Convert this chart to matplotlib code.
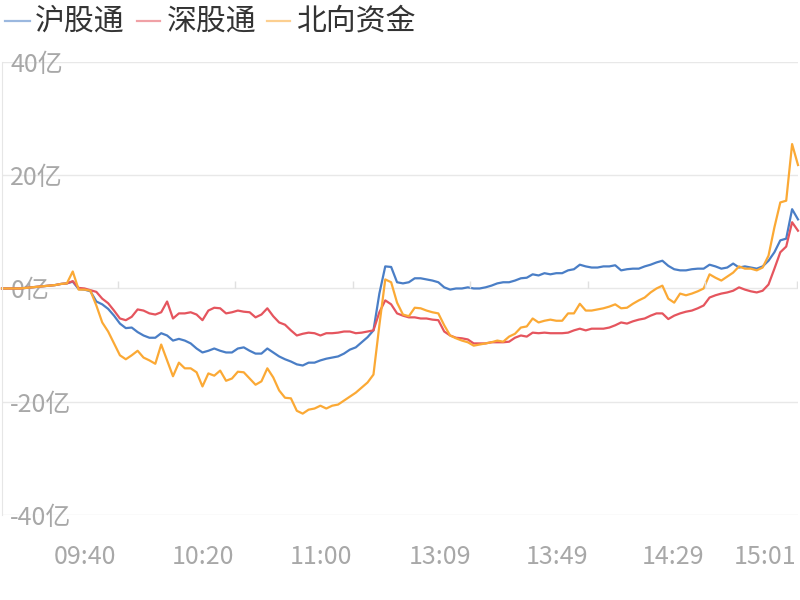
import matplotlib
matplotlib.use('Agg')
import matplotlib.pyplot as plt
import numpy as np
from matplotlib.lines import Line2D

plt.rcParams['font.family'] = ['Noto Sans CJK SC', 'DejaVu Sans']

# net inflow, 亿 yuan, one value every two minutes
series_names = ['沪股通', '深股通', '北向资金']
sh_flow = [
    0.0, 0.0, 0.0, 0.0, 0.1, 0.2, 0.3, 0.4, 0.5, 0.6,
    0.8, 0.9, 1.2, -0.1, -0.2, -0.5, -2.3, -2.8, -3.6, -4.8,
    -6.2, -7.0, -6.9, -7.7, -8.3, -8.7, -8.7, -7.9, -8.3, -9.2,
    -8.9, -9.2, -9.7, -10.6, -11.3, -11.0, -10.6, -11.0, -11.3, -11.3,
    -10.6, -10.4, -11.0, -11.5, -11.5, -10.6, -11.3, -12.0, -12.5, -12.9,
    -13.4, -13.6, -13.1, -13.1, -12.7, -12.4, -12.2, -12.0, -11.5, -10.8,
    -10.4, -9.5, -8.6, -7.4, -0.9, 3.9, 3.8, 1.1, 0.9, 1.1,
    1.8, 1.8, 1.6, 1.4, 1.1, 0.2, -0.2, 0.0, 0.0, 0.2,
    0.0, 0.0, 0.2, 0.5, 0.9, 1.1, 1.1, 1.4, 1.8, 1.9,
    2.5, 2.3, 2.7, 2.5, 2.7, 2.7, 3.2, 3.4, 4.2, 3.9,
    3.7, 3.7, 3.9, 3.9, 4.1, 3.2, 3.4, 3.5, 3.5, 3.9,
    4.2, 4.6, 4.9, 4.0, 3.4, 3.2, 3.2, 3.4, 3.5, 3.5,
    4.2, 3.9, 3.5, 3.7, 4.4, 3.7, 3.9, 3.7, 3.5, 3.9,
    4.9, 6.4, 8.5, 8.8, 14.0, 12.2,
]
sz_flow = [
    0.0, 0.0, 0.0, 0.0, 0.1, 0.2, 0.3, 0.4, 0.5, 0.6,
    0.8, 0.9, 1.3, 0.1, 0.0, -0.3, -0.6, -1.8, -2.6, -3.9,
    -5.3, -5.6, -5.0, -3.7, -3.9, -4.4, -4.6, -4.2, -2.3, -5.3,
    -4.4, -4.4, -4.2, -4.6, -5.6, -3.9, -3.4, -3.5, -4.4, -4.2,
    -3.9, -4.1, -4.2, -5.1, -4.6, -3.5, -4.9, -6.0, -6.4, -7.4,
    -8.3, -8.0, -7.8, -7.9, -8.3, -7.9, -7.9, -7.8, -7.6, -7.6,
    -7.9, -7.8, -7.6, -7.4, -4.2, -2.1, -2.8, -4.4, -4.8, -5.1,
    -5.1, -5.3, -5.3, -5.5, -5.6, -7.6, -8.3, -8.7, -8.8, -9.0,
    -9.7, -9.7, -9.7, -9.5, -9.5, -9.5, -9.4, -8.7, -8.3, -8.5,
    -7.8, -7.9, -7.8, -7.9, -7.9, -7.9, -7.8, -7.4, -7.1, -7.4,
    -7.1, -7.1, -7.1, -6.9, -6.5, -6.0, -6.2, -5.8, -5.5, -5.3,
    -4.8, -4.4, -4.4, -5.4, -4.8, -4.4, -4.1, -3.9, -3.5, -3.0,
    -1.6, -1.2, -0.9, -0.7, -0.4, 0.2, -0.2, -0.5, -0.7, -0.4,
    0.7, 3.5, 6.4, 7.4, 11.7, 10.2,
]
north_flow = [
    0.0, 0.0, 0.0, 0.0, 0.1, 0.2, 0.3, 0.4, 0.5, 0.6,
    0.8, 0.9, 3.0, -0.2, -0.2, -0.4, -3.0, -6.0, -7.6, -9.7,
    -11.8, -12.5, -11.8, -11.0, -12.2, -12.7, -13.3, -9.9, -12.7, -15.5,
    -13.1, -14.1, -14.1, -14.8, -17.3, -15.0, -15.4, -14.5, -16.3, -15.9,
    -14.7, -14.8, -15.9, -17.0, -16.4, -14.1, -15.7, -18.0, -19.3, -19.4,
    -21.6, -22.1, -21.4, -21.2, -20.7, -21.2, -20.7, -20.5, -19.8, -19.1,
    -18.4, -17.5, -16.6, -15.2, -6.5, 1.6, 1.1, -2.5, -4.6, -4.9,
    -3.4, -3.5, -3.9, -4.2, -4.4, -6.5, -8.3, -8.8, -9.2, -9.5,
    -10.1, -9.9, -9.7, -9.5, -9.2, -9.4, -8.5, -8.0, -6.9, -6.7,
    -5.3, -6.0, -5.7, -5.5, -5.7, -5.7, -4.4, -4.4, -2.7, -3.9,
    -3.9, -3.7, -3.5, -3.2, -2.8, -3.5, -3.4, -2.7, -2.1, -1.6,
    -0.7, 0.0, 0.5, -1.8, -2.5, -0.9, -1.2, -0.9, -0.5, 0.0,
    2.5, 1.9, 1.4, 2.1, 2.8, 3.9, 3.5, 3.5, 3.2, 3.7,
    5.8, 10.8, 15.2, 15.5, 25.5, 21.8,
]
x_labels = ['09:40', '10:20', '11:00', '13:09', '13:49', '14:29', '15:01']
y_values = [-40, -20, 0, 20, 40]

# where the labels and the little axis ticks sit, in sample units
label_pos = [14.0, 34.1, 54.1, 74.3, 94.1, 113.8, 129.4]
tick_pos = [19.7, 39.6, 59.5, 79.4, 99.3, 119.2, 134.8]
colors = ['#4a7ec6', '#e5555e', '#fba935']

fig = plt.figure(figsize=(8, 6), dpi=100)
ax = fig.add_axes([0.0025, 0.1417, 0.995, 0.755])

x = np.arange(len(sh_flow))
for vals, c in zip([sh_flow, sz_flow, north_flow], colors):
    ax.plot(x, vals, color=c, lw=1.6, solid_joinstyle='round', clip_on=False)

ax.set_xlim(0, len(x) - 1)
ax.set_ylim(-40, 40)

ax.set_yticks(y_values)
ax.set_yticklabels([f'{v}亿' for v in y_values])
ax.grid(axis='y', color='#e8e8e8', lw=1)
ax.set_axisbelow(True)
ax.tick_params(axis='y', length=0, pad=-6, labelsize=18, labelcolor='#a8a8a8')
for lbl in ax.get_yticklabels():
    lbl.set_horizontalalignment('left')

ax.set_xticks(label_pos)
ax.set_xticklabels(x_labels)
ax.tick_params(axis='x', length=0, pad=21, labelsize=18, labelcolor='#a8a8a8')
ax.vlines(tick_pos, 0, 1.4, color='#e0e0e0', lw=1)

for s in ['top', 'right', 'bottom']:
    ax.spines[s].set_visible(False)
ax.spines['left'].set_color('#e6e6e6')

# legend drawn by hand across the top
icon_px = [(5, 30), (137, 160), (267, 290)]
text_px = [35, 167, 297]
ly = 1 - 21 / 600
for name, c, (a, b), t in zip(series_names, colors, icon_px, text_px):
    fig.add_artist(Line2D([a / 800, b / 800], [ly, ly], transform=fig.transFigure,
                          color=c, alpha=0.55, lw=1.6))
    fig.text(t / 800, ly, name, fontsize=21.5, color='#333333', va='center', ha='left')

fig.savefig('out.png', dpi=100)
